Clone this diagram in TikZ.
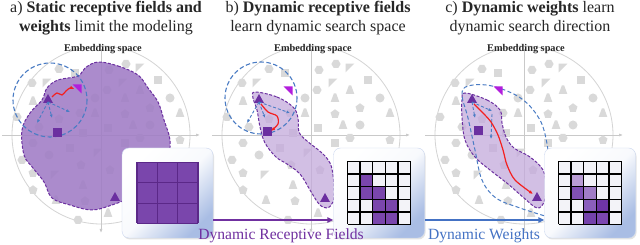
\documentclass[tikz,border=0pt]{standalone}
\usepackage{fontspec}
\setmainfont{Liberation Serif}
\usetikzlibrary{arrows.meta,shadows,calc}
\definecolor{gshape}{HTML}{D9D9D9}
\definecolor{axisc}{HTML}{C9C9C9}
\definecolor{dpurple}{HTML}{6B2FA0}
\definecolor{magen}{HTML}{B21EDC}
\definecolor{bluec}{HTML}{4A7CC4}
\definecolor{blobA}{HTML}{A07CC5}
\definecolor{blobB}{HTML}{C4AADC}
\definecolor{redc}{HTML}{F42020}
\definecolor{arrP}{HTML}{7030A0}
\definecolor{arrB}{HTML}{4472C4}
\definecolor{boxblue}{HTML}{A9BDE4}
\definecolor{cellP}{HTML}{7A46AC}
\definecolor{cellW}{HTML}{F3F3F8}
\definecolor{cA}{HTML}{BA9DD5}
\definecolor{cB}{HTML}{8050B5}
\definecolor{cC}{HTML}{A17DC7}
\definecolor{cD}{HTML}{8A5EBC}
\definecolor{cE}{HTML}{6E35A6}
\definecolor{cF}{HTML}{7442AB}
\definecolor{cG}{HTML}{7B47B0}
\newcommand\shpH[2]{\fill[gshape,shift={(#1,#2)}] (4.6,0)--(2.3,4)--(-2.3,4)--(-4.6,0)--(-2.3,-4)--(2.3,-4)--cycle;}
\newcommand\shpP[2]{\fill[gshape,shift={(#1,#2)}] (0,-4.7)--(4.47,-1.45)--(2.76,3.8)--(-2.76,3.8)--(-4.47,-1.45)--cycle;}
\newcommand\shpT[2]{\fill[gshape,shift={(#1,#2)}] (-1.2,-4.5)--(1.2,-4.5)--(4.3,4)--(-4.3,4)--cycle;}
\newcommand\shpS[2]{\fill[gshape,shift={(#1,#2)}] (-4.2,-4.2) rectangle (4.2,4.2);}
\newcommand\shpC[2]{\fill[gshape] (#1,#2) circle (4.5);}
\newcommand\shpW[2]{\fill[gshape,shift={(#1,#2)}] (-4.3,-4.3)--(4.3,-4.3)--(-4.3,4.3)--cycle;}
\newcommand\spTri[3]{\fill[#3,shift={(#1,#2)}] (0,-5)--(5,4)--(-5,4)--cycle;}
\newcommand\spSq[3]{\fill[#3,shift={(#1,#2)}] (-4.5,-4.5) rectangle (4.5,4.5);}
\newcommand\spWdg[3]{\fill[#3,shift={(#1,#2)}] (-4.5,-4.5)--(4.5,-4.5)--(4.5,4.5)--cycle;}
\newcommand\grayset{%
\shpH{-69}{-52}\shpW{-54}{-52}\shpH{-42}{-66}\shpS{-26}{-62}\shpH{8}{-65}\shpH{25}{-71}\shpW{39}{-67}\shpS{57}{-55}%
\shpT{-68}{-34}\shpW{22}{-52}\shpH{6}{-45}\shpT{39}{-45}\shpC{-6}{-37}\shpT{24}{-37}\shpC{69}{-37}%
\shpH{-84}{-18}\shpP{-42}{-16}\shpH{-21}{-22}\shpT{-6}{-22}\shpP{24}{-21}\shpP{49}{-27}\shpT{79}{-22}%
\shpS{7}{-7}\shpT{32}{-10}\shpC{49}{-10}\shpH{39}{3}\shpP{79}{5}\shpS{24}{8}%
\shpH{-68}{8}\shpS{-31}{13}\shpW{-3}{18}\shpH{-79}{25}\shpH{46}{24}\shpP{-68}{38}\shpW{-46}{40}\shpP{9}{35}%
\shpT{-18}{50}\shpH{36}{46}\shpP{-68}{55}\shpT{-45}{65}\shpP{-16}{66}\shpH{-23}{85}\shpT{7}{78}\shpH{33}{70}\shpP{62}{58}%
\shpH{-62}{-8}\shpS{-18}{-2}\shpC{-52}{20}\shpP{-20}{30}}
\newcommand\embedbase{%
\draw[axisc!80,line width=0.8] (0,0) circle (89);
\draw[axisc,line width=0.7,-{Latex[length=4,width=3]}] (-99,0) -- (99,0);
\draw[axisc,line width=0.7,-{Latex[length=4,width=3]}] (0,-86) -- (0,98);
\grayset}
\begin{document}
\begin{tikzpicture}[x=1pt,y=-1pt,
  ttl/.style={font=\fontsize{16}{19}\selectfont,text=black!85,inner sep=0pt,anchor=base},
  emb/.style={font=\fontsize{10.3}{12}\selectfont\bfseries,text=black!85,inner sep=0pt,anchor=base},
  lbl/.style={font=\fontsize{15.6}{18}\selectfont,inner sep=0pt,anchor=base},
  blobline/.style={draw=dpurple,dash pattern=on 3pt off 1.6pt,line width=1},
  bdash/.style={bluec,dash pattern=on 3pt off 2pt,line width=0.9,-{Latex[length=3.5,width=3]}},
  bcirc/.style={bluec,dash pattern=on 4.5pt off 2.5pt,line width=1.1},
  redarr/.style={redc,line width=1.2,-{Latex[length=4,width=3.5]}},
  kbox/.style={rectangle,rounded corners=7pt,minimum width=91pt,minimum height=90pt,
    top color=white,bottom color=boxblue,middle color=white!92!boxblue,shading angle=45,
    draw=boxblue!60,line width=0.4,drop shadow={opacity=0.22,shadow xshift=1pt,shadow yshift=-1.5pt}},
  gridline/.style={black,line width=1.5},
  flowP/.style={arrP,line width=1.4,-{Triangle[length=6,width=5.5]}},
  flowB/.style={arrB,line width=1.4,-{Triangle[length=6,width=5.5]}}]
\useasboundingbox (0,0) rectangle (640,245);
\fill[white] (0,0) rectangle (640,245);
% titles
\node[ttl] (ta1) at (106,13) {a) \textbf{Static receptive fields and}};
\node[ttl] (ta2) at (106,32) {\textbf{weights} limit the modeling};
\node[ttl] (tb1) at (318,13) {b) \textbf{Dynamic receptive fields}};
\node[ttl] (tb2) at (318,32) {learn dynamic search space};
\node[ttl] (tc1) at (530,13) {c) \textbf{Dynamic weights} learn};
\node[ttl] (tc2) at (530,32) {dynamic search direction};
% ---------- panel a ----------
\begin{scope}[shift={(101,135)}]\embedbase\end{scope}
\fill[blobA,opacity=0.88] plot[smooth cycle,tension=0.6] coordinates {(98,62)(118,66)(138,75)(148,88)(158,102)(164,120)(170,140)(168,158)(160,175)(150,190)(130,198)(112,205)(92,210)(70,205)(52,198)(44,182)(33,168)(24,155)(22,130)(30,113)(42,100)(47,88)(58,80)(78,76)(85,68)};
\draw[blobline] plot[smooth cycle,tension=0.6] coordinates {(98,62)(118,66)(138,75)(148,88)(158,102)(164,120)(170,140)(168,158)(160,175)(150,190)(130,198)(112,205)(92,210)(70,205)(52,198)(44,182)(33,168)(24,155)(22,130)(30,113)(42,100)(47,88)(58,80)(78,76)(85,68)};
\node[emb] (ea) at (103,52) {Embedding space};
\draw[bcirc] (50,100) circle (37);
\spTri{48}{99}{dpurple}
\spWdg{77}{89}{magen}
\spSq{57}{133}{dpurple}
\spTri{115}{197}{dpurple}
\coordinate (aT) at (48,102);
\draw[bdash] (aT) -- (70,112);
\draw[bdash] (aT) -- (37,123);
\draw[bdash] (aT) -- (52,118);
\draw[redarr] plot[smooth] coordinates {(52,97)(57,93)(62,95)(66,91)(70,88)(74,89)};
% ---------- panel b ----------
\begin{scope}[shift={(311,135)}]\embedbase\end{scope}
\fill[blobB,opacity=0.75] plot[smooth cycle,tension=0.6] coordinates {(255,92)(277,97)(293,107)(298,118)(299,132)(307,141)(322,153)(330,163)(333,175)(334,190)(333,202)(327,208)(319,204)(310,190)(300,174)(287,164)(276,157)(265,143)(260,127)(257,110)(253,98)};
\draw[blobline] plot[smooth cycle,tension=0.6] coordinates {(255,92)(277,97)(293,107)(298,118)(299,132)(307,141)(322,153)(330,163)(333,175)(334,190)(333,202)(327,208)(319,204)(310,190)(300,174)(287,164)(276,157)(265,143)(260,127)(257,110)(253,98)};
\node[emb] (eb) at (313,52) {Embedding space};
\draw[bcirc] (261,98) circle (36);
\spTri{259}{99}{dpurple}
\spWdg{288}{91}{magen}
\spSq{267}{132}{dpurple}
\spTri{325}{198}{dpurple}
\coordinate (bT) at (259,102);
\draw[bdash] (bT) -- (290,113);
\draw[bdash] (bT) -- (247,123);
\draw[bdash] (bT) -- (265,118);
\draw[redarr] plot[smooth] coordinates {(261,104)(268,112)(277,116)(278,124)(271,131)};
% ---------- panel c ----------
\begin{scope}[shift={(524,135)}]\embedbase\end{scope}
\fill[blobB,opacity=0.75] plot[smooth cycle,tension=0.6] coordinates {(465,93)(487,100)(500,110)(502,123)(506,137)(514,148)(530,157)(543,170)(546,187)(544,202)(537,208)(524,198)(508,184)(490,170)(475,157)(465,140)(462,117)(462,100)};
\draw[blobline] plot[smooth cycle,tension=0.6] coordinates {(465,93)(487,100)(500,110)(502,123)(506,137)(514,148)(530,157)(543,170)(546,187)(544,202)(537,208)(524,198)(508,184)(490,170)(475,157)(465,140)(462,117)(462,100)};
\draw[bluec,dash pattern=on 4pt off 2.5pt,line width=1] plot[smooth,tension=0.6] coordinates {(548,150)(541,122)(522,99)(492,86)(468,86)(462,95)(468,118)(475,150)(482,180)(496,198)(520,208)(545,216)};
\node[emb] (ec) at (526,52) {Embedding space};
\spTri{472}{99}{dpurple}
\spWdg{498}{91}{magen}
\spSq{478}{131}{dpurple}
\spTri{537}{197}{dpurple}
\coordinate (cT) at (472,102);
\draw[bdash] (cT) -- (492,111);
\draw[bdash] (cT) -- (475,118);
\draw[bdash] (492,114) -- (491,139);
\draw[redarr] plot[smooth] coordinates {(474,104)(483,113)(491,122)(498,135)(503,150)(507,165)(515,180)(533,194)};
% ---------- kernel boxes ----------
\node[kbox] (boxA) at (167.5,193) {};
\node[kbox] (boxB) at (379,193) {};
\node[kbox] (boxC) at (590,193) {};
% grid a
\begin{scope}[shift={($(boxA.center)+(-30.5,-30.5)$)}]
\fill[cellP] (0,0) rectangle (61,61);
\foreach \i in {0,...,3} {\draw[dpurple!85!black,line width=1.1] (\i*20.333,0) -- (\i*20.333,61); \draw[dpurple!85!black,line width=1.1] (0,\i*20.333) -- (61,\i*20.333);}
\end{scope}
% grid b
\begin{scope}[shift={($(boxB.center)+(-31.5,-31.5)$)}]
\fill[cellW] (0,0) rectangle (63,63);
\foreach \r/\c in {1/1,2/1,2/2,3/2,3/3,4/2,4/3} {\fill[cellP] (\c*12.6,\r*12.6) rectangle ++(12.6,12.6);}
\foreach \i in {0,...,5} {\draw[gridline] (\i*12.6,0) -- (\i*12.6,63); \draw[gridline] (0,\i*12.6) -- (63,\i*12.6);}
\end{scope}
% grid c
\begin{scope}[shift={($(boxC.center)+(-31.5,-31.5)$)}]
\fill[cellW] (0,0) rectangle (63,63);
\foreach \r/\c/\k in {1/1/cA,2/1/cB,2/2/cC,3/2/cD,3/3/cE,4/2/cF,4/3/cG} {\fill[\k] (\c*12.6,\r*12.6) rectangle ++(12.6,12.6);}
\foreach \i in {0,...,5} {\draw[gridline] (\i*12.6,0) -- (\i*12.6,63); \draw[gridline] (0,\i*12.6) -- (63,\i*12.6);}
\end{scope}
% flows
\draw[flowP] ($(boxA.east)+(0,27)$) -- ($(boxB.west)+(0,27)$);
\draw[flowB] ($(boxB.east)+(0,27)$) -- ($(boxC.west)+(0,27)$);
\node[lbl,text=arrP] (lP) at (281,240) {Dynamic Receptive Fields};
\node[lbl,text=arrB] (lB) at (484,240) {Dynamic Weights};
\end{tikzpicture}
\end{document}
